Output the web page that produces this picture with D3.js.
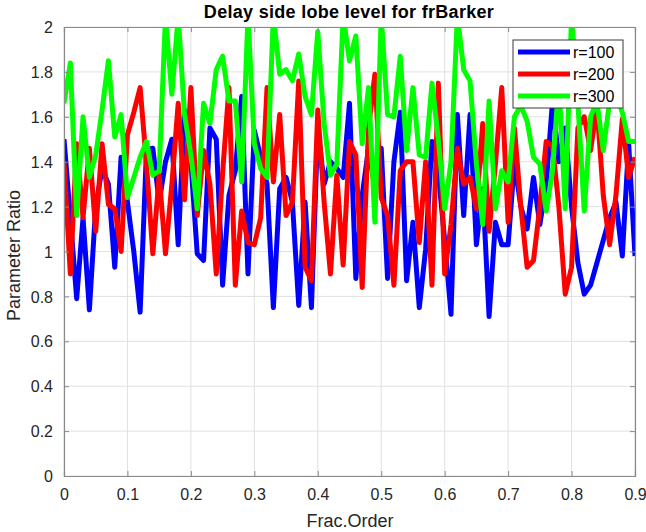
<!DOCTYPE html>
<html>
<head>
<meta charset="utf-8">
<script src="https://cdn.jsdelivr.net/npm/d3@7"></script>
<style>
  html, body { margin: 0; padding: 0; background: #fff; }
  svg { display: block; }
  text { font-family: "Liberation Sans", Arial, Helvetica, sans-serif; }
</style>
</head>
<body>
<svg id="chart" width="646" height="532"></svg>
<script>
const fracOrder = [0.00,0.01,0.02,0.03,0.04,0.05,0.06,0.07,0.08,0.09,
  0.10,0.11,0.12,0.13,0.14,0.15,0.16,0.17,0.18,0.19,
  0.20,0.21,0.22,0.23,0.24,0.25,0.26,0.27,0.28,0.29,
  0.30,0.31,0.32,0.33,0.34,0.35,0.36,0.37,0.38,0.39,
  0.40,0.41,0.42,0.43,0.44,0.45,0.46,0.47,0.48,0.49,
  0.50,0.51,0.52,0.53,0.54,0.55,0.56,0.57,0.58,0.59,
  0.60,0.61,0.62,0.63,0.64,0.65,0.66,0.67,0.68,0.69,
  0.70,0.71,0.72,0.73,0.74,0.75,0.76,0.77,0.78,0.79,
  0.80,0.81,0.82,0.83,0.84,0.85,0.86,0.87,0.88,0.89,0.90];

const r100 = [1.50,1.15,0.79,1.15,0.74,1.20,1.37,1.30,0.93,1.42,
  1.22,1.00,0.73,1.45,1.46,1.22,1.40,1.50,1.03,1.63,
  1.40,0.99,0.96,1.55,1.50,0.85,1.25,1.36,1.69,0.90,
  1.54,1.42,1.30,0.75,1.28,1.33,1.22,0.76,1.22,0.75,
  1.55,1.30,1.40,1.37,1.33,1.66,0.88,1.25,1.46,1.28,
  1.46,0.88,1.40,1.62,0.87,1.13,0.75,1.01,1.49,1.35,
  1.05,0.72,1.61,1.16,1.61,1.03,1.28,0.71,1.13,1.03,
  1.03,1.40,1.20,1.10,1.33,1.12,1.30,1.67,1.40,1.55,
  1.20,0.95,0.81,0.85,0.95,1.05,1.15,1.22,0.98,1.48,0.98];

const r200 = [1.40,0.90,1.48,1.15,1.46,1.09,1.48,1.21,1.19,1.00,
  1.52,1.62,1.73,1.39,0.99,1.34,0.99,1.30,1.66,1.23,
  1.73,1.16,1.45,1.30,0.90,1.35,1.73,0.85,1.18,1.04,
  1.03,1.15,1.73,1.31,1.61,1.16,1.22,1.76,0.93,0.87,
  1.63,1.22,0.90,1.34,0.94,1.49,1.43,0.84,1.55,1.79,
  1.24,1.16,0.85,1.36,1.40,1.40,1.04,1.40,0.85,1.75,
  0.90,1.12,1.46,1.30,1.33,1.19,1.57,1.09,1.39,1.73,
  1.13,1.55,1.20,0.93,0.96,1.20,1.49,1.47,1.20,0.81,
  0.93,1.55,1.60,1.45,1.65,1.25,1.03,1.25,1.59,1.33,1.42];

const r300 = [1.66,1.84,1.16,1.60,1.33,1.43,1.63,1.85,1.51,1.61,
  1.24,1.33,1.42,1.49,1.34,1.36,2.05,1.70,2.05,1.61,
  1.43,1.19,1.66,1.57,1.81,1.87,1.67,1.67,1.31,2.05,
  1.48,1.37,1.33,2.05,1.79,1.81,1.76,1.88,1.69,1.61,
  1.98,1.57,1.34,1.39,2.05,1.85,1.96,1.48,1.73,1.13,
  2.05,1.61,1.60,1.87,1.45,1.73,1.43,1.42,1.75,1.50,
  1.19,1.40,2.05,1.81,1.76,1.39,1.12,1.67,1.19,1.36,
  1.31,1.60,1.65,1.58,1.42,1.39,1.18,1.36,1.76,1.19,
  2.05,1.66,1.18,1.60,1.67,1.45,1.67,1.70,1.62,1.49,1.49];

const seriesNames = ["r=100", "r=200", "r=300"];
const seriesColors = ["#0000ff", "#ff0000", "#00ff00"];
const xTicks = [0,0.1,0.2,0.3,0.4,0.5,0.6,0.7,0.8,0.9];
const yTicks = [0,0.2,0.4,0.6,0.8,1,1.2,1.4,1.6,1.8,2];

const series = [r100, r200, r300].map((vals, i) => ({
  name: seriesNames[i], color: seriesColors[i],
  points: vals.map((v, j) => ({ x: fracOrder[j], y: v }))
}));

const L = 64, R = 635, T = 27, B = 476;
const svg = d3.select("#chart");
const x = d3.scaleLinear().domain([0, 0.9]).range([L, R]);
const y = d3.scaleLinear().domain([0, 2]).range([B, T]);

// grid
const grid = svg.append("g");
grid.selectAll("line.gx").data(xTicks).enter().append("line")
  .attr("x1", d => x(d)).attr("x2", d => x(d)).attr("y1", T).attr("y2", B)
  .attr("stroke", "#e0e0e0").attr("stroke-width", 1);
grid.selectAll("line.gy").data(yTicks).enter().append("line")
  .attr("x1", L).attr("x2", R).attr("y1", d => y(d)).attr("y2", d => y(d))
  .attr("stroke", "#e0e0e0").attr("stroke-width", 1);

// clip
svg.append("clipPath").attr("id", "clip").append("rect")
  .attr("x", L).attr("y", T).attr("width", R - L).attr("height", B - T);

const line = d3.line().x(d => x(d.x)).y(d => y(d.y));
svg.append("g").attr("clip-path", "url(#clip)")
  .selectAll("path").data(series).enter().append("path")
  .attr("d", d => line(d.points))
  .attr("fill", "none").attr("stroke", d => d.color)
  .attr("stroke-width", 5).attr("stroke-linejoin", "round");

// axes (MATLAB-like, ticks inside, box)
const axCol = "#262626";
const gxB = svg.append("g").attr("transform", `translate(0,${B})`)
  .call(d3.axisBottom(x).tickValues(xTicks).tickSize(-5).tickPadding(13).tickFormat(d3.format("")));
const gxT = svg.append("g").attr("transform", `translate(0,${T})`)
  .call(d3.axisTop(x).tickValues(xTicks).tickSize(-5).tickFormat(""));
const gyL = svg.append("g").attr("transform", `translate(${L},0)`)
  .call(d3.axisLeft(y).tickValues(yTicks).tickSize(-5).tickPadding(11).tickFormat(d3.format("")));
const gyR = svg.append("g").attr("transform", `translate(${R},0)`)
  .call(d3.axisRight(y).tickValues(yTicks).tickSize(-5).tickFormat(""));
[gxB, gxT, gyL, gyR].forEach(g => {
  g.select(".domain").attr("stroke", "#8a8a8a").attr("stroke-width", 1.2);
  g.selectAll(".tick line").attr("stroke", "#8a8a8a");
  g.selectAll("text").attr("fill", axCol).attr("font-size", 16)
    .attr("font-family", "'Liberation Sans', Arial, sans-serif");
});
gyL.selectAll("text").attr("dy", "0.35em");

// title and labels
svg.append("text").attr("x", 349).attr("y", 18).attr("text-anchor", "middle")
  .attr("font-size", 18).attr("font-weight", "bold").attr("fill", "#000")
  .attr("letter-spacing", 0.3)
  .text("Delay side lobe level for frBarker");
svg.append("text").attr("x", 350).attr("y", 527).attr("text-anchor", "middle")
  .attr("font-size", 18).attr("fill", axCol).text("Frac.Order");
svg.append("text").attr("transform", `translate(20,${(T + B) / 2 + 4}) rotate(-90)`)
  .attr("text-anchor", "middle").attr("font-size", 18).attr("fill", axCol)
  .text("Parameter Ratio");

// legend
const lg = svg.append("g").attr("transform", "translate(513,40)");
lg.append("rect").attr("x", 0).attr("y", 0).attr("width", 110).attr("height", 68)
  .attr("fill", "#fff").attr("stroke", "#3a3a3a").attr("stroke-width", 1);
series.forEach((s, i) => {
  const cy = 12 + i * 22;
  lg.append("line").attr("x1", 5).attr("x2", 57).attr("y1", cy).attr("y2", cy)
    .attr("stroke", s.color).attr("stroke-width", 5);
  lg.append("text").attr("x", 60).attr("y", cy).attr("dy", "0.35em")
    .attr("font-size", 16).attr("fill", "#000").text(s.name);
});
</script>
</body>
</html>
